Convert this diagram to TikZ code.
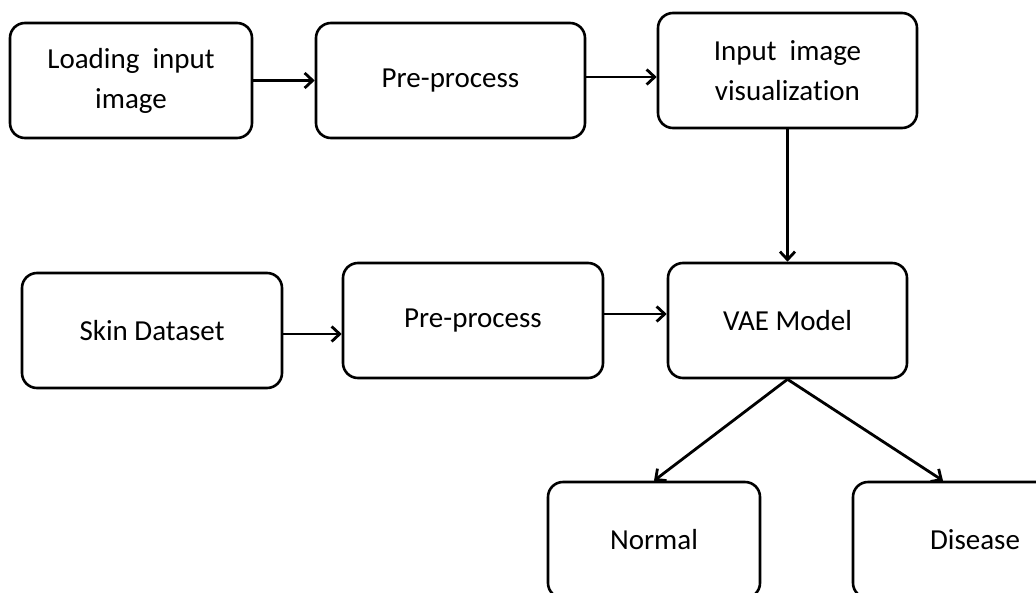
\documentclass[tikz,border=0pt]{standalone}
\usepackage{fontspec}
\setmainfont{Carlito}[RawFeature=-liga]
\usetikzlibrary{arrows.meta}
\begin{document}
\begin{tikzpicture}[x=1pt,y=-1pt,
		block/.style={rectangle,draw,line width=2.6pt,rounded corners=15pt,align=center,
			minimum height=115pt,font=\fontsize{29}{40}\selectfont},
		flow/.style={line width=2.8pt,-{Straight Barb[length=8pt,width=15pt]}}]
		\useasboundingbox (0,0) rectangle (1036,592);
		\clip (0,0) rectangle (1036,592);
		\node [block,minimum width=242pt] (1) at (131,80.5) {Loading~ input\\image};
		\node [block,minimum width=269pt] (2) at (450.5,80.5) {Pre-process};
		\node [block,minimum width=259pt] (3) at (787.5,70.5) {Input~ image\\visualization};
		\node [block,minimum width=260pt] (4) at (152,330.5) {Skin Dataset};
		\node [block,minimum width=260pt] (5) at (473,320.5) {Pre-process};
		\node [block,minimum width=239pt] (6) at (787.5,320.5) {VAE Model};
		\node [block,minimum width=212pt,minimum height=116pt] (7) at (654,540) {Normal};
		\node [block,minimum width=244pt,minimum height=116pt] (8) at (975,540) {Disease};
		\draw [flow] (1.east) -- (1.east -| 2.west);
		\draw [flow] ([yshift=3.5pt]2.east) -- ([yshift=3.5pt]2.east -| 3.west);
		\draw [flow] (3.south) -- (6.north);
		\draw [flow] ([yshift=-3.5pt]4.east) -- ([yshift=-3.5pt]4.east -| 5.west);
		\draw [flow] ([yshift=6.5pt]5.east) -- ([yshift=6.5pt]5.east -| 6.west);
		\draw [flow] (6.south) -- (7.north);
		\draw [flow] (6.south) -- ([xshift=-32pt]8.north);
	\end{tikzpicture}
\end{document}
